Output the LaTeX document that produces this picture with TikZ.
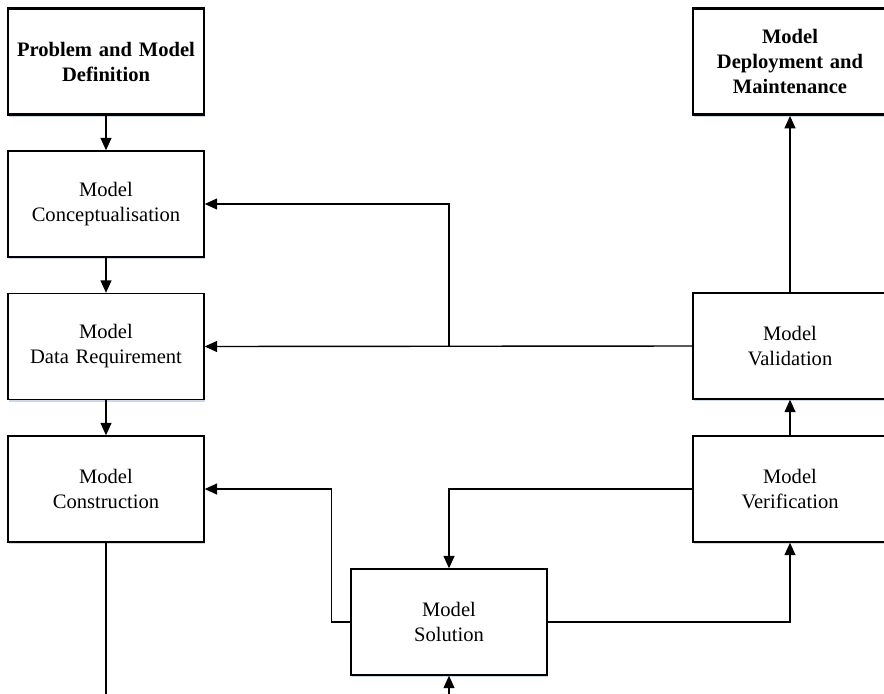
\documentclass[tikz,border=0pt]{standalone}
\usepackage{fontspec}
\setmainfont{Liberation Serif}
\usepackage{xcolor}
\usepackage{tikz}
\usetikzlibrary{arrows.meta,positioning,calc,shadows}
\definecolor{flowink}{HTML}{000000}
\definecolor{flowshade}{HTML}{B9C9DE}

\begin{document}
\begin{tikzpicture}[x=0.02cm,y=-0.02cm,
    stagebox/.style={draw=flowink, line width=0.8pt, fill=white, minimum width=3.92cm, minimum height=2.12cm,
      text width=3.7cm, align=center, inner sep=0pt, font=\fontsize{11.7}{14.2}\selectfont,
      drop shadow={shadow xshift=0.7pt, shadow yshift=-1.4pt, fill=flowshade, opacity=0.7}},
    endbox/.style={stagebox, line width=1.6pt, font=\bfseries\fontsize{11.7}{14.2}\selectfont},
    flow/.style={draw=flowink, line width=0.8pt, -{Triangle[length=2.5mm, width=2.2mm]}},
    link/.style={draw=flowink, line width=0.8pt}]
  \useasboundingbox (0,0) rectangle (884,693);
  \clip (0,0) rectangle (884,693);

  % left column
  \node[endbox] (problem) at (106,61.5) {Problem and Model\\Definition};
  \node[stagebox] (concept) at (106,204) {Model\\Conceptualisation};
  \node[stagebox] (datareq) at (106,346.5) {Model\\Data Requirement};
  \node[stagebox] (construct) at (106,489) {Model\\Construction};

  % right column
  \node[endbox, minimum width=3.88cm] (deploy) at (790,61.5) {Model\\Deployment and\\Maintenance};
  \node[stagebox, minimum width=3.88cm] (validate) at (790,346) {Model\\Validation};
  \node[stagebox, minimum width=3.88cm] (verify) at (790,489) {Model\\Verification};

  % middle
  \node[stagebox] (solve) at (449,622) {Model\\Solution};

  \coordinate (bottomleft) at (106,700);
  \coordinate (bottommid) at (449,700);
  \coordinate (branch) at (solve.north |- validate.west);

  \draw[flow] (problem) -- (concept);
  \draw[flow] (concept) -- (datareq);
  \draw[flow] (datareq) -- (construct);
  \draw[link] (construct) -- (bottomleft);
  \draw[flow] (bottommid) -- (solve);

  \draw[flow] (solve.west) -- ++(-19,0) |- (construct.east);
  \draw[flow] (verify.west) -| (solve.north);
  \draw[flow] (solve.east) -| (verify.south);
  \draw[flow] (verify) -- (validate);
  \draw[flow] (validate) -- (deploy);
  \draw[flow] (validate.west) -- (datareq.east);
  \draw[flow] (branch) |- (concept.east);
\end{tikzpicture}
\end{document}
